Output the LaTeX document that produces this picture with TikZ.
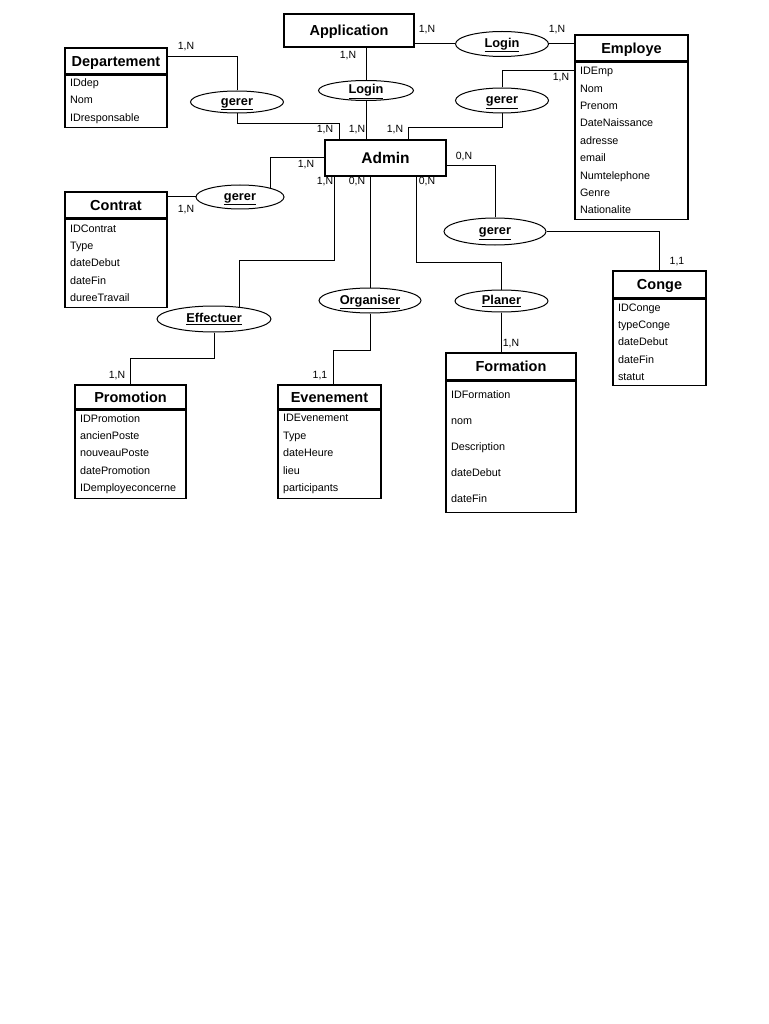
\documentclass[tikz,border=0pt]{standalone}
\usepackage{fontspec}
\setmainfont{Liberation Sans}
\usetikzlibrary{positioning,shapes.geometric}
\tikzset{
	entity/.style={draw, line width=1.2pt, inner sep=0pt, text height=10.4pt, text depth=0pt, font=\bfseries\fontsize{14.5}{16}\selectfont},
	attrs/.style={draw, line width=1.2pt, align=left, inner xsep=5pt, inner ysep=0pt, font=\fontsize{10.8}{17.4}\selectfont},
	relation/.style={draw, ellipse, line width=1pt, inner sep=0pt, text height=9.5pt, text depth=2.5pt, font=\bfseries\fontsize{12.8}{14}\selectfont},
	card/.style={inner sep=0pt, font=\fontsize{10.5}{12}\selectfont},
	link/.style={line width=1pt}
}
\begin{document}
\begin{tikzpicture}[x=1pt, y=-1pt]
	\useasboundingbox (0,0) rectangle (768,1024);
	% entities
	\node[entity, minimum width=130pt, minimum height=33pt] at (349,30.5) (application) {Application};
	\node[entity, minimum width=121pt, minimum height=36pt, text height=11.1pt, font=\bfseries\fontsize{15.5}{17}\selectfont] at (385.5,158) (admin) {Admin};
	
	\node[entity, minimum width=102pt, minimum height=26pt] at (116,61) (departement) {Departement};
	\node[attrs, text width=92pt, minimum height=52pt, below=0pt of departement] (departement-attrs) {IDdep\\Nom\\IDresponsable};
	
	\node[entity, minimum width=113pt, minimum height=26pt] at (631.5,48) (employe) {Employe};
	\node[attrs, text width=103pt, minimum height=157pt, below=0pt of employe] (employe-attrs) {IDEmp\\Nom\\Prenom\\DateNaissance\\adresse\\email\\Numtelephone\\Genre\\Nationalite};
	
	\node[entity, minimum width=102pt, minimum height=26pt] at (116,205) (contrat) {Contrat};
	\node[attrs, text width=92pt, minimum height=88pt, below=0pt of contrat] (contrat-attrs) {IDContrat\\Type\\dateDebut\\dateFin\\dureeTravail};
	
	\node[entity, minimum width=93pt, minimum height=27pt] at (659.5,284.5) (conge) {Conge};
	\node[attrs, text width=83pt, minimum height=86pt, below=0pt of conge] (conge-attrs) {IDConge\\typeConge\\dateDebut\\dateFin\\statut};
	
	\node[entity, minimum width=130pt, minimum height=27pt] at (511,366.5) (formation) {Formation};
	\node[attrs, text width=120pt, minimum height=131pt, font=\fontsize{10.8}{26}\selectfont, below=0pt of formation] (formation-attrs) {IDFormation\\nom\\Description\\dateDebut\\dateFin};
	
	\node[entity, minimum width=111pt, minimum height=24pt] at (130.5,397) (promotion) {Promotion};
	\node[attrs, text width=101pt, minimum height=88pt, below=0pt of promotion] (promotion-attrs) {IDPromotion\\ancienPoste\\nouveauPoste\\datePromotion\\IDemployeconcerne};
	
	\node[entity, minimum width=103pt, minimum height=24pt] at (329.5,397) (evenement) {Evenement};
	\node[attrs, text width=93pt, minimum height=88pt, below=0pt of evenement] (evenement-attrs) {IDEvenement\\Type\\dateHeure\\lieu\\participants};
	
	% relations
	\node[relation, minimum width=93pt, minimum height=25pt] at (502,44) (login-top) {\underline{Login}};
	\node[relation, minimum width=95pt, minimum height=20pt] at (366,90.5) (login-mid) {\underline{Login}};
	\node[relation, minimum width=93pt, minimum height=22pt] at (237,102) (gerer-dep) {\underline{gerer}};
	\node[relation, minimum width=93pt, minimum height=25pt] at (502,100.5) (gerer-emp) {\underline{gerer}};
	\node[relation, minimum width=88pt, minimum height=24pt] at (240,197) (gerer-ctr) {\underline{gerer}};
	\node[relation, minimum width=102pt, minimum height=27pt] at (495,231.5) (gerer-cng) {\underline{gerer}};
	\node[relation, minimum width=102pt, minimum height=25pt] at (370,300.5) (organiser) {\underline{Organiser}};
	\node[relation, minimum width=93pt, minimum height=22pt] at (501.5,301) (planer) {\underline{Planer}};
	\node[relation, minimum width=114pt, minimum height=26pt] at (214,319) (effectuer) {\underline{Effectuer}};
	
	% links
	\draw[link] (application.east |- login-top) -- (login-top.west);
	\draw[link] (login-top.east) -- (login-top.east -| employe.west);
	\draw[link] (login-mid.north |- application.south) -- (login-mid.north);
	\draw[link] (login-mid.south) -- (login-mid.south |- admin.north);
	\draw[link] ([yshift=4pt]departement.east) -| (gerer-dep.north);
	\draw[link] (gerer-dep.south) -- ++(0,10) -| ([xshift=15pt]admin.north west);
	\draw[link] ([yshift=-9pt]employe-attrs.north west) -| (gerer-emp.north);
	\draw[link] (gerer-emp.south) -- ++(0,14) -| ([xshift=84pt]admin.north west);
	\draw[link] (gerer-ctr.west -| contrat.east) -- (gerer-ctr.west);
	\draw[link] (gerer-ctr.17) |- (admin.west);
	\draw[link] ([xshift=10pt]admin.south west) -- ++(0,84) -| (effectuer.25);
	\draw[link] (effectuer.south) -- ++(0,26) -| (promotion.north);
	\draw[link] (organiser.north |- admin.south) -- (organiser.north);
	\draw[link] (organiser.south) -- ++(0,37) -| ([xshift=4pt]evenement.north);
	\draw[link] ([xshift=92pt]admin.south west) -- ++(0,86) -| (planer.north);
	\draw[link] (planer.south) -- (planer.south |- formation.north);
	\draw[link] ([yshift=-8pt]admin.east) -| (gerer-cng.north);
	\draw[link] (gerer-cng.east) -| (conge.north);
	
	% cardinalities
	\node[card] at (427,30) (card-app-login) {1,N};
	\node[card] at (557,30) (card-emp-login) {1,N};
	\node[card] at (348,56) (card-app-admin) {1,N};
	\node[card] at (357,130) (card-admin-login) {1,N};
	\node[card] at (186,47) (card-dep) {1,N};
	\node[card] at (325,130) (card-admin-dep) {1,N};
	\node[card] at (395,130) (card-admin-emp) {1,N};
	\node[card] at (561,78) (card-emp) {1,N};
	\node[card] at (306,165) (card-admin-ctr) {1,N};
	\node[card] at (186,210) (card-ctr) {1,N};
	\node[card] at (325,182) (card-admin-eff) {1,N};
	\node[card] at (357,182) (card-admin-org) {0,N};
	\node[card] at (427,182) (card-admin-pla) {0,N};
	\node[card] at (464,157) (card-admin-cng) {0,N};
	\node[card] at (677,262) (card-cng) {1,1};
	\node[card] at (511,344) (card-form) {1,N};
	\node[card] at (117,376) (card-promo) {1,N};
	\node[card] at (320,376) (card-even) {1,1};
\end{tikzpicture}
\end{document}
